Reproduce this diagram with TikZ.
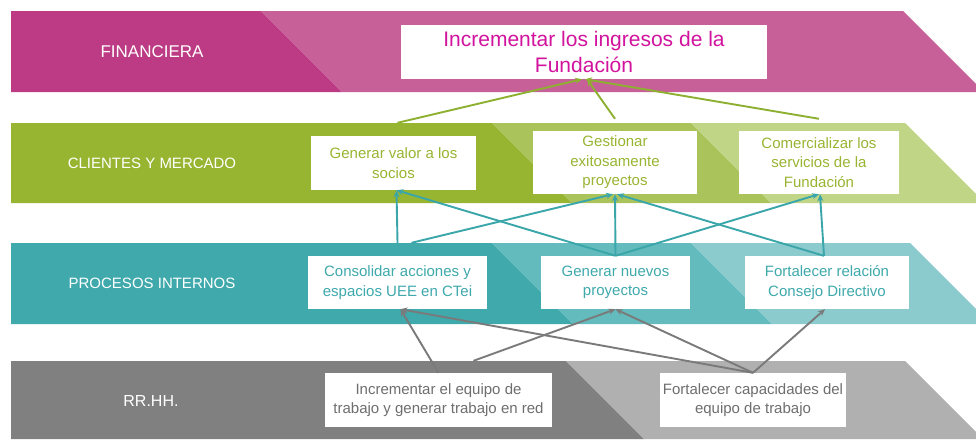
\documentclass[tikz,border=0pt]{standalone}
\usepackage{fontspec}
\setmainfont{Liberation Sans}
\usetikzlibrary{arrows.meta}
\definecolor{findark}{HTML}{BC3B84}
\definecolor{finlight}{HTML}{C76098}
\definecolor{clidark}{HTML}{98B532}
\definecolor{climed}{HTML}{AAC35B}
\definecolor{clilight}{HTML}{C1D587}
\definecolor{prodark}{HTML}{3FA9AC}
\definecolor{promed}{HTML}{63BBBD}
\definecolor{prolight}{HTML}{8BCACD}
\definecolor{rrdark}{HTML}{808080}
\definecolor{rrlight}{HTML}{B0B0B0}
\definecolor{magtext}{HTML}{D1139D}
\definecolor{greentext}{HTML}{98B532}
\definecolor{tealtext}{HTML}{3FA9AC}
\definecolor{graytext}{HTML}{6E6E6E}
\definecolor{arrgreen}{HTML}{8EB031}
\definecolor{arrteal}{HTML}{3AA6AA}
\definecolor{arrgray}{HTML}{7A7A7A}
\begin{document}
\begin{tikzpicture}[x=1pt,y=-1pt,
  box/.style={fill=white, align=center, inner sep=0pt, font=\fontsize{15}{19.5}\selectfont},
  bandlabel/.style={text=white, font=\fontsize{15}{18}\selectfont},
  conn/.style={line width=1.9pt, -{Stealth[length=7pt,width=6pt]}},
  gconn/.style={conn, draw=arrgreen},
  tconn/.style={conn, draw=arrteal},
  yconn/.style={conn, draw=arrgray}]
\useasboundingbox (0,0) rectangle (976,439);
\fill[white] (0,0) rectangle (976,439);
\begin{scope}
\clip (0,0) rectangle (976,439);
% Financiera band
\fill[findark] (11,11) -- (261,11) -- (342,92) -- (11,92) -- cycle;
\fill[finlight] (261,11) -- (903,11) -- (984,92) -- (342,92) -- cycle;
% Clientes band
\fill[clidark] (11,123) -- (492,123) -- (572,203) -- (11,203) -- cycle;
\fill[climed] (492,123) -- (691,123) -- (771,203) -- (572,203) -- cycle;
\fill[clilight] (691,123) -- (905,123) -- (985,203) -- (771,203) -- cycle;
% Procesos band
\fill[prodark] (11,243) -- (492,243) -- (573,324) -- (11,324) -- cycle;
\fill[promed] (492,243) -- (691,243) -- (772,324) -- (573,324) -- cycle;
\fill[prolight] (691,243) -- (910,243) -- (991,324) -- (772,324) -- cycle;
% RR.HH. band
\fill[rrdark] (11,361) -- (566,361) -- (644,439) -- (11,439) -- cycle;
\fill[rrlight] (566,361) -- (905,361) -- (983,439) -- (644,439) -- cycle;
\end{scope}

% band labels
\node[bandlabel, font=\fontsize{17}{20}\selectfont] (lfin) at (152,52) {FINANCIERA};
\node[bandlabel] (lcli) at (152,163) {CLIENTES Y MERCADO};
\node[bandlabel] (lpro) at (152,283) {PROCESOS INTERNOS};
\node[bandlabel, font=\fontsize{16}{19}\selectfont] (lrr) at (151,401) {RR.HH.};

% boxes
\node[box, text=magtext, font=\fontsize{21}{26}\selectfont, minimum width=366pt, minimum height=54pt] (fund) at (584,52) {Incrementar los ingresos de la\\Fundación};

\node[box, text=greentext, minimum width=165pt, minimum height=54pt] (gv) at (393.5,163) {Generar valor a los\\socios};
\node[box, text=greentext, minimum width=164pt, minimum height=63pt] (ge) at (615,162.5) {Gestionar\\exitosamente\\proyectos};
\node[box, text=greentext, minimum width=160pt, minimum height=63pt] (co) at (819,162.5) {Comercializar los\\servicios de la\\Fundación};

\node[box, text=tealtext, minimum width=179pt, minimum height=53pt] (cons) at (397.5,282.5) {Consolidar acciones y\\espacios UEE en CTei};
\node[box, text=tealtext, minimum width=149pt, minimum height=53pt] (gn) at (615.5,282.5) {Generar nuevos\\proyectos};
\node[box, text=tealtext, minimum width=164pt, minimum height=53pt] (fr) at (827,282.5) {Fortalecer relación\\Consejo Directivo};

\node[box, text=graytext, minimum width=227pt, minimum height=54pt] (ie) at (438.5,400) {Incrementar el equipo de\\trabajo y generar trabajo en red};
\node[box, text=graytext, minimum width=186pt, minimum height=54pt] (fc) at (753,400) {Fortalecer capacidades del\\equipo de trabajo};

% green connectors
\draw[gconn] ([xshift=4pt,yshift=13pt]gv.north) -- ([xshift=-2pt]fund.south);
\draw[gconn] ([yshift=12pt]ge.north) -- ([xshift=3pt]fund.south);
\draw[gconn] ([yshift=12pt]co.north) -- ([xshift=1pt]fund.south);

% teal connectors
\draw[tconn] ([yshift=13pt]cons.north) -- ([xshift=3pt]gv.south);
\draw[tconn] ([xshift=14pt,yshift=13pt]cons.north) -- ([xshift=-2pt]ge.south);
\draw[tconn] (gn.north) -- ([xshift=3pt]gv.south);
\draw[tconn] (gn.north) -- (ge.south);
\draw[tconn] (gn.north) -- (co.south);
\draw[tconn] ([xshift=-3pt]fr.north) -- ([xshift=2pt]ge.south);
\draw[tconn] ([xshift=-3pt]fr.north) -- ([xshift=1pt]co.south);

% gray connectors
\draw[yconn] (ie.north) -- ([xshift=3pt]cons.south);
\draw[yconn] ([xshift=35pt,yshift=12pt]ie.north) -- (gn.south);
\draw[yconn] (fc.north) -- ([xshift=3pt]cons.south);
\draw[yconn] (fc.north) -- (gn.south);
\draw[yconn] (fc.north) -- ([xshift=-2pt]fr.south);
\end{tikzpicture}
\end{document}
